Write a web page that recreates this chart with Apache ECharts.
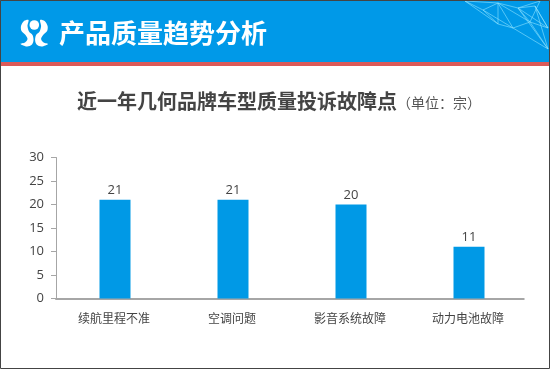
<!DOCTYPE html>
<html><head><meta charset="utf-8">
<style>html,body{margin:0;padding:0;background:#fff}#c{width:550px;height:369px}</style>
<script src="https://cdn.jsdelivr.net/npm/echarts@6/dist/echarts.min.js"></script>
</head><body><div id="c"></div>
<script>
const categories=['续航里程不准','空调问题','影音系统故障','动力电池故障'];
const values=[21,21,20,11];
const headerTitle='产品质量趋势分析';
const chartTitle='近一年几何品牌车型质量投诉故障点';
const unitText='（单位：宗）';
const FONT='"Noto Sans CJK SC","Open Sans",sans-serif';
const NUMFONT='"Open Sans",sans-serif';
const netPts=[[465,1],[498,3],[483,10],[498,24],[513,28],[548,49],[518,8],[498,3],[513,28],[483,10],[465,1],[498,24],[498,3],[530,22],[518,8],[548,28],[530,22],[548,49],[535,6],[548,28],[535,6],[518,8],[540,1],[530,22],[513,28]];
const logoL=[[28.5,20],[24,21],[21,26],[21.5,31],[25.5,35],[27.5,39],[25,42.5],[20.5,44],[27,46.5],[32,44.5],[33.5,40],[32.5,35],[29,31.5],[27.5,26]];
const logoR=logoL.map(p=>[68.6-p[0],p[1]]);
const chart=echarts.init(document.getElementById('c'),null,{renderer:'canvas'});
chart.setOption({
 animation:false,
 grid:{left:56,right:22,top:157.5,bottom:70.5,containLabel:false},
 xAxis:{type:'category',data:categories,axisTick:{show:false},
  axisLine:{lineStyle:{color:'#a6a6a6',width:2}},
  axisLabel:{color:'#444',fontSize:12,fontFamily:FONT,margin:14,padding:[0,2,0,0]}},
 yAxis:{type:'value',min:0,max:30,interval:5,splitLine:{show:false},
  axisLine:{show:true,lineStyle:{color:'#a6a6a6',width:1}},
  axisTick:{show:true,length:5,lineStyle:{color:'#a6a6a6'}},
  axisLabel:{color:'#444',fontSize:13,fontFamily:NUMFONT,margin:12}},
 series:[{type:'bar',data:values,barWidth:31,itemStyle:{color:'#0099e6'},
  label:{show:true,position:'top',distance:3,color:'#444',fontSize:13,fontFamily:NUMFONT}}],
 graphic:[
  {type:'rect',z:0,shape:{x:0,y:0,width:550,height:62},style:{fill:'#0099e8'}},
  {type:'rect',z:0,shape:{x:0,y:62,width:550,height:4},style:{fill:'#dc5a58'}},
  {type:'polyline',z:1,shape:{points:netPts},style:{stroke:'#8fe4ff',fill:null,lineWidth:0.7,opacity:0.85}},
  {type:'text',z:2,style:{x:59,y:33,text:headerTitle,fill:'#fff',font:'bold 26px '+FONT,verticalAlign:'middle'}},
  {type:'text',z:2,style:{x:77,y:101,text:chartTitle,fill:'#444',font:'bold 20px '+FONT,verticalAlign:'middle'}},
  {type:'text',z:2,style:{x:397,y:103,text:unitText,fill:'#555',font:'14px '+FONT,verticalAlign:'middle'}},
  {type:'polygon',z:2,shape:{points:logoL,smooth:0.3},style:{fill:'#fff'}},
  {type:'polygon',z:2,shape:{points:logoR,smooth:0.3},style:{fill:'#fff'}},
  {type:'circle',z:2,shape:{cx:34.3,cy:25,r:4.8},style:{fill:'#fff'}},
  {type:'rect',z:5,shape:{x:524.5,y:296,width:6,height:5},style:{fill:'#fff'}},
  {type:'rect',z:6,shape:{x:0.5,y:0.5,width:549,height:368},style:{fill:null,stroke:'#444',lineWidth:1}}
 ]
});
</script></body></html>
